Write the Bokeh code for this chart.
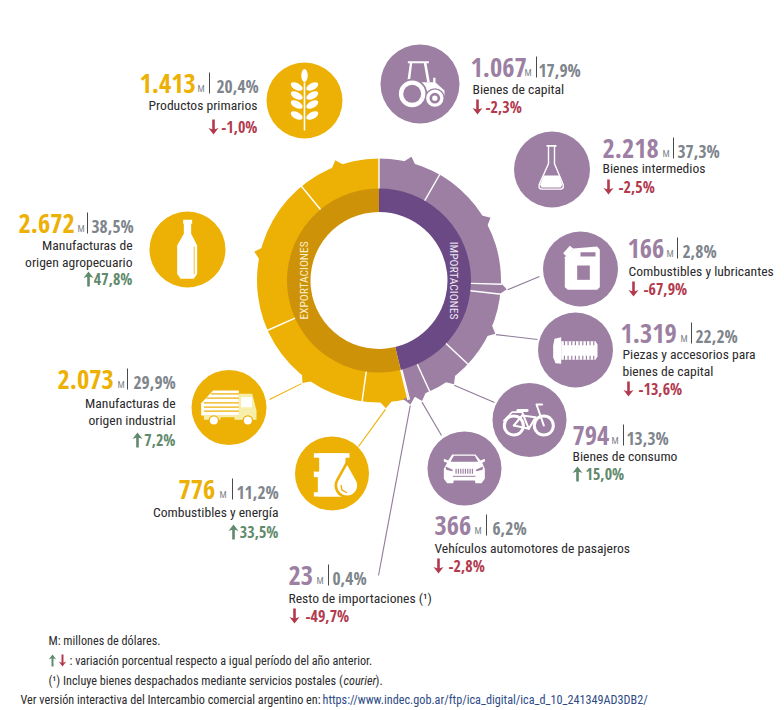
import math
from bokeh.plotting import figure
from bokeh.models import Range1d
from bokeh.core.properties import value
from bokeh.embed import file_html
from bokeh.resources import INLINE

# ---------- data (clockwise from the top of the ring) ----------
imp_names = [["Bienes de capital"], ["Bienes intermedios"], ["Combustibles y lubricantes"],
             ["Piezas y accesorios para", "bienes de capital"], ["Bienes de consumo"],
             ["Vehículos automotores de pasajeros"], ["Resto de importaciones (¹)"]]
imp_values = [1067, 2218, 166, 1319, 794, 366, 23]
imp_shares = [17.9, 37.3, 2.8, 22.2, 13.3, 6.2, 0.4]
imp_changes = [-2.3, -2.5, -67.9, -13.6, 15.0, -2.8, -49.7]

exp_names = [["Combustibles y energía"], ["Manufacturas de", "origen industrial"],
             ["Manufacturas de", "origen agropecuario"], ["Productos primarios"]]
exp_values = [776, 2073, 2672, 1413]
exp_shares = [11.2, 29.9, 38.5, 20.4]
exp_changes = [33.5, 7.2, 47.8, -1.0]

# ---------- colours and fonts ----------
AMBER, AMBER_D = "#EDB005", "#CE9208"
PURPLE, PURPLE_D = "#9C7FA3", "#6A4985"
GREY, INK, GREEN, RED, LINK = "#7E858C", "#2B2A2C", "#5F8A6C", "#B23A4E", "#2F4B87"
PALE = "#F7EFA9"
NARROW = "Roboto Condensed"
HEAVY = "Open Sans Condensed"

CX, CY = 378.5, 280.0
R_HOLE, R_MID, R_OUT, R_TIP = 68.5, 92.0, 122.0, 128.0

p = figure(width=784, height=710, x_range=Range1d(0, 784), y_range=Range1d(0, 710),
           output_backend="svg", toolbar_location=None, min_border=0, outline_line_color=None)
p.axis.visible = False
p.grid.visible = False


def Y(y):
    return 710 - y


def polar(theta, r):
    t = math.radians(theta)
    return CX + r * math.sin(t), CY - r * math.cos(t)


def txt(x, y, s, size, color, style="normal", align="left", angle=0.0, baseline="alphabetic", font=NARROW):
    if baseline == "alphabetic":
        y = y - 0.38 * size
    p.text([x], [Y(y)], text=[s], text_font=value(font), text_font_size=f"{size}px",
           text_color=color, text_font_style=style, text_align=align, text_baseline=baseline,
           angle=angle)


def poly(pts, color):
    p.patch([a for a, _ in pts], [Y(b) for _, b in pts], fill_color=color, line_color=None)


def zpoly(o, pts, color):
    poly([(o[0] + a / 3, o[1] + b / 3) for a, b in pts], color)


def zrect(o, x0, y0, x1, y1, color):
    zpoly(o, [(x0, y0), (x1, y0), (x1, y1), (x0, y1)], color)


def zcirc(o, x, y, r, color):
    p.circle([o[0] + x / 3], [Y(o[1] + y / 3)], radius=r / 3, fill_color=color, line_color=None)


def zline(o, pts, color, w):
    p.line([o[0] + a / 3 for a, _ in pts], [Y(o[1] + b / 3) for _, b in pts],
           line_color=color, line_width=w, line_cap="round", line_join="round")


def zdrop(o, x, y, r, color):
    pts = [(x, y - 2.05 * r)] + [(x + r * math.cos(math.radians(k)), y + r * math.sin(math.radians(k)))
                                 for k in range(-30, 211, 15)]
    zpoly(o, pts, color)


def arrow(x, base, up, color, h=15.0, hw=5.0, hh=6.5, sw=1.3):
    top, bot = base - h, base
    if up:
        pts = [(x, top), (x + hw, top + hh), (x + sw, top + hh - 1.2), (x + sw, bot),
               (x - sw, bot), (x - sw, top + hh - 1.2), (x - hw, top + hh)]
    else:
        pts = [(x, bot), (x + hw, bot - hh), (x + sw, bot - hh + 1.2), (x + sw, top),
               (x - sw, top), (x - sw, bot - hh + 1.2), (x - hw, bot - hh)]
    poly(pts, color)


# ---------- rings, all angles from the values ----------
imp_total, exp_total = sum(imp_values), sum(exp_values)
imp_span = 360.0 * imp_total / (imp_total + exp_total)
exp_span = 360.0 - imp_span


def cumulate(values, start, span):
    total, out, cur = sum(values), [], start
    for v in values:
        nxt = cur + span * v / total
        out.append((cur, nxt))
        cur = nxt
    return out


imp_arcs = cumulate(imp_values, 0.0, imp_span)
exp_arcs = cumulate(exp_values, imp_span, exp_span)


def ring(theta0, theta1, r0, r1, color):
    p.annular_wedge([CX], [Y(CY)], inner_radius=r0, outer_radius=r1,
                    start_angle=math.radians(90 - theta0), end_angle=math.radians(90 - theta1),
                    direction="clock", fill_color=color, line_color=None)


ring(0, imp_span, R_MID - 1, R_OUT, PURPLE)
ring(imp_span, 360, R_MID - 1, R_OUT, AMBER)

for arcs, col in ((imp_arcs, PURPLE), (exp_arcs, AMBER)):
    for a, b in arcs:
        m = (a + b) / 2
        poly([polar(m - 3.4, R_OUT - 1), polar(m - 0.2, R_TIP), polar(m + 2.6, R_OUT - 1)], col)

ring(0, imp_span, R_HOLE, R_MID, PURPLE_D)
ring(imp_span, 360, R_HOLE, R_MID, AMBER_D)

for a, b in imp_arcs + exp_arcs:
    x0, y0 = polar(a, R_MID)
    x1, y1 = polar(a, R_OUT + 1)
    p.line([x0, x1], [Y(y0), Y(y1)], line_color="white", line_width=1.4)

txt(CX - 75.5, CY, "EXPORTACIONES", 11.5, "#FBEFC8", align="center", angle=math.pi / 2, baseline="middle")
txt(CX + 74.5, CY, "IMPORTACIONES", 11.5, "#EFE6F2", align="center", angle=-math.pi / 2, baseline="middle")

# ---------- connectors ----------
ends_imp = {2: (539, 276), 3: (537, 339), 4: (494, 402), 5: (441, 435), 6: (378, 575)}
ends_exp = {0: (358, 446), 1: (269, 399)}
for arcs, ends, col in ((imp_arcs, ends_imp, "#8F7B98"), (exp_arcs, ends_exp, AMBER)):
    for i, (ex, ey) in ends.items():
        sx, sy = polar(sum(arcs[i]) / 2, R_TIP + 1)
        p.line([sx, ex], [Y(sy), Y(ey)], line_color=col, line_width=1.1)

# ---------- icon discs ----------
discs_imp = [(419.5, 83.5, 39.5), (551.5, 169, 38), (580, 268.5, 37.5), (575, 349.5, 37.5),
             (529, 419.5, 37), (464, 468, 37), None]
discs_exp = [(331.5, 473, 37), (228.5, 407, 37.5), (187, 249, 38), (304, 100, 38)]
for discs, col in ((discs_imp, PURPLE), (discs_exp, AMBER)):
    for d in discs:
        if d:
            p.circle([d[0]], [Y(d[1])], radius=d[2], fill_color=col, line_color=None)

W = "white"
# wheat
ox, oy = 304, 100
p.line([ox, ox], [Y(oy - 18), Y(oy + 30)], line_color=W, line_width=1.6)
p.ellipse([ox], [Y(oy - 25)], width=6.5, height=13, fill_color=W, line_color=None)
for dy in (-14, -5, 4, 15):
    for s in (-1, 1):
        p.ellipse([ox + s * 7.8], [Y(oy + dy)], width=13, height=6.6, angle=s * math.radians(28),
                  fill_color=W, line_color=None)
# bottle
o = (0, 60)
zpoly(o, [(548, 478), (575, 478), (575, 490), (572, 490), (572, 520), (590, 555), (590, 640), (580, 655),
          (540, 655), (530, 640), (530, 555), (550, 520), (550, 490), (548, 490)], W)
zline(o, [(581, 560), (581, 640)], AMBER, 0.8)
# truck
o = (170, 360)
zpoly(o, [(205, 100), (245, 100), (258, 150), (258, 178), (100, 178), (100, 165), (205, 165)], PALE)
zpoly(o, [(92, 128), (128, 90), (205, 90), (205, 165), (92, 165)], W)
for yy, x0 in ((100, 122), (113, 108), (127, 100), (140, 100), (152, 100)):
    zrect(o, x0, yy - 1.8, 205, yy + 1.8, AMBER)
zrect(o, 212, 110, 245, 140, W)
zrect(o, 150, 170, 192, 186, AMBER)
for wx in (130, 232):
    zcirc(o, wx, 180, 16, AMBER)
    zcirc(o, wx, 180, 12, W)
# barrel and drop
zrect(o, 442, 278, 525, 408, W)
zrect(o, 430, 278, 537, 292, W)
zrect(o, 430, 395, 537, 408, W)
zrect(o, 430, 333, 458, 350, W)
zrect(o, 436, 292, 446, 333, AMBER)
zdrop(o, 530, 375, 38, AMBER)
zdrop(o, 530, 375, 30, W)
zline(o, [(512, 375), (514, 388), (528, 396)], AMBER, 1.4)
# tractor
o = (370, 30)
zpoly(o, [(112, 92), (175, 92), (175, 98), (168, 98), (178, 155), (170, 155), (160, 98), (125, 98),
          (118, 155), (110, 155), (118, 98), (112, 98)], W)
zpoly(o, [(105, 155), (188, 155), (188, 142), (195, 142), (195, 156), (222, 180), (222, 195), (212, 192),
          (190, 178), (160, 190), (140, 165), (105, 165)], W)
zcirc(o, 125, 190, 45, PURPLE)
zcirc(o, 125, 190, 40, W)
zcirc(o, 125, 190, 27, PURPLE)
zcirc(o, 193, 203, 30, PURPLE)
zcirc(o, 193, 203, 26, W)
zcirc(o, 193, 203, 16, PURPLE)
zcirc(o, 193, 203, 8, W)
# flask
zline(o, [(530, 346), (556, 346)], W, 1.8)
zline(o, [(534, 346), (534, 400), (506, 462), (506, 472), (512, 476), (572, 476), (578, 472),
          (578, 462), (552, 400), (552, 346)], W, 1.4)
zpoly(o, [(520, 435), (566, 435), (575, 462), (571, 471), (513, 471), (509, 462)], W)
# jerry can
o = (480, 220)
zpoly(o, [(278, 84), (350, 78), (358, 88), (358, 200), (350, 208), (262, 208), (253, 200), (253, 110)], W)
zpoly(o, [(248, 98), (268, 76), (278, 84), (258, 108)], W)
zrect(o, 300, 95, 345, 108, PURPLE)
zrect(o, 290, 135, 328, 178, PURPLE)
# screw
zpoly(o, [(218, 375), (222, 355), (242, 350), (242, 430), (225, 428), (218, 410)], W)
zpoly(o, [(242, 362), (345, 362), (351, 372), (351, 408), (345, 418), (242, 418)], W)
for sx in range(250, 340, 11):
    zrect(o, sx, 362, sx + 3.5, 374, PURPLE)
    zrect(o, sx, 406, sx + 3.5, 418, PURPLE)
# bicycle
for wx in (100, 190):
    zcirc(o, wx, 615, 33, W)
    zcirc(o, wx, 615, 24, PURPLE)
zline(o, [(100, 615), (145, 625), (125, 575)], W, 2.0)
zline(o, [(125, 585), (165, 590), (145, 625)], W, 2.0)
zline(o, [(100, 615), (125, 585)], W, 2.0)
zline(o, [(190, 615), (168, 552), (185, 552)], W, 2.0)
zline(o, [(112, 570), (140, 570)], W, 2.8)
zline(o, [(70, 600), (95, 575), (125, 575)], W, 1.6)
# car
o = (425, 430)
zpoly(o, [(80, 72), (150, 72), (165, 90), (178, 85), (178, 93), (170, 97), (178, 115), (178, 145), (168, 158),
          (150, 158), (148, 150), (85, 150), (83, 158), (65, 158), (55, 145), (55, 115), (65, 97), (55, 93),
          (55, 85), (68, 90)], W)
zpoly(o, [(85, 76), (148, 76), (158, 94), (75, 94)], PURPLE)
zpoly(o, [(60, 108), (82, 118), (80, 122), (62, 118)], PURPLE)
zpoly(o, [(173, 108), (151, 118), (153, 122), (171, 118)], PURPLE)
for gx in range(90, 146, 7):
    zrect(o, gx, 115, gx + 3.5, 130, PURPLE)
zrect(o, 82, 136, 150, 139, PURPLE)

# ---------- labels ----------
# num_x, num_base, m_x, sep_x, pct_x, name_x, name_bases, arrow_x, chg_x, chg_base, right aligned?
lay_imp = [
    (470, 76, 524, 536, 538, 472, [94], 477, 485, 113, False),
    (602, 157, 662, 673, 677, 602, [173], 608, 618, 193, False),
    (627, 257, 666, 677, 682, 628, [276], 633, 643, 295, False),
    (620, 342, 680, 691, 695, 622, [359, 376], 628, 638, 395, False),
    (572, 444, 611, 623, 626, 572, [461], 577, 585, 480, False),
    (434, 534, 474, 486, 492, 434, [553], 438, 448, 572, False),
    (288, 584, 316, 328, 332, 288, [603], 294, 305, 622, False),
]
lay_exp = [
    (178, 498, 219, 232, 236, 278, [517], 233, 278, 538, True),
    (57, 388, 117, 127, 133, 175, [408, 425], 137, 175, 446, True),
    (18, 232, 77, 87, 91, 132, [250, 267], 88, 132, 285, True),
    (139, 92, 197, 209, 216, 257, [110], 213, 257, 133, True),
]


def thousands(v):
    return f"{v:,}".replace(",", ".")


def comma(v):
    return f"{v:.1f}".replace(".", ",")


def block(names, values, shares, changes, layout, col):
    for nm, v, s, c, l in zip(names, values, shares, changes, layout):
        nx, nb, mx, sx, px, namex, nbs, ax, cx, cb, right = l
        txt(nx, nb + 1, thousands(v), 26.5, col, "bold", font=HEAVY)
        txt(mx, nb, "M", 9.5, GREY)
        p.line([sx, sx], [Y(nb - 20), Y(nb + 1)], line_color="#4A4A4A", line_width=1)
        txt(px, nb, comma(s) + "%", 17.5, GREY, "bold", font=HEAVY)
        for line, y in zip(nm, nbs):
            txt(namex, y, line, 13.6, INK, align="right" if right else "left")
        up = c > 0
        colr = GREEN if up else RED
        arrow(ax, cb + 1, up, colr)
        txt(cx, cb, comma(c) + "%", 16, colr, "bold", align="right" if right else "left", font=HEAVY)


block(imp_names, imp_values, imp_shares, imp_changes, lay_imp, PURPLE)
block(exp_names, exp_values, exp_shares, exp_changes, lay_exp, AMBER)

# ---------- footer ----------
FS = 12.2
txt(48, 645.5, "M: millones de dólares.", FS, INK)
arrow(52, 666, True, GREEN, h=12, hw=3.8, hh=5, sw=1)
arrow(62, 666, False, RED, h=12, hw=3.8, hh=5, sw=1)
txt(69, 665.5, ": variación porcentual respecto a igual período del año anterior.", FS, INK)
txt(48, 685.5, "(¹) Incluye bienes despachados mediante servicios postales (", FS, INK)
txt(343, 685.5, "courier", FS, INK, "italic")
txt(375, 685.5, ").", FS, INK)
txt(20, 704.5, "Ver versión interactiva del Intercambio comercial argentino en: ", FS, INK)
txt(322, 704.5, "https://www.indec.gob.ar/ftp/ica_digital/ica_d_10_241349AD3DB2/", FS, LINK)

open("out.html", "w").write(file_html(p, INLINE))
